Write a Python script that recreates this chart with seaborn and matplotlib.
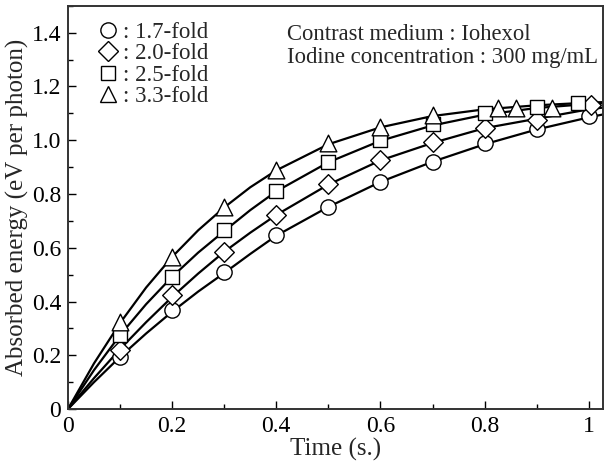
import numpy as np
import pandas as pd
import matplotlib
matplotlib.use('Agg')
import matplotlib.pyplot as plt
from matplotlib.lines import Line2D
from matplotlib.ticker import MultipleLocator, FuncFormatter
import seaborn as sns

folds = ['1.7-fold', '2.0-fold', '2.5-fold', '3.3-fold']
markers = ['o', 'D', 's', '^']
msizes = [11, 10, 10.5, 12]

t_circ = [0.1, 0.2, 0.3, 0.4, 0.5, 0.6, 0.7, 0.8, 0.9, 1.0]
e_circ = [0.194, 0.368, 0.51, 0.648, 0.752, 0.845, 0.92, 0.99, 1.04, 1.09]
t_diam = [0.1, 0.2, 0.3, 0.4, 0.5, 0.6, 0.7, 0.8, 0.9, 1.005]
e_diam = [0.22, 0.425, 0.585, 0.722, 0.838, 0.927, 0.995, 1.045, 1.076, 1.13]
t_sq = [0.1, 0.2, 0.3, 0.4, 0.5, 0.6, 0.7, 0.8, 0.9, 0.98]
e_sq = [0.275, 0.49, 0.667, 0.81, 0.92, 1.0, 1.06, 1.10, 1.125, 1.14]
t_tri = [0.1, 0.2, 0.3, 0.4, 0.5, 0.6, 0.7, 0.825, 0.86, 0.93]
e_tri = [0.325, 0.566, 0.75, 0.89, 0.99, 1.05, 1.095, 1.12, 1.12, 1.12]

# fitted curves, sampled off the figure
t_curve = [0, 0.05, 0.1, 0.15, 0.2, 0.25, 0.3, 0.35, 0.4, 0.5, 0.6, 0.7, 0.8, 0.9, 1.0, 1.03]
c_17 = [0, 0.100, 0.194, 0.281, 0.362, 0.437, 0.506, 0.577, 0.645, 0.752, 0.845, 0.92, 0.985, 1.04, 1.085, 1.097]
c_20 = [0, 0.115, 0.223, 0.323, 0.417, 0.504, 0.585, 0.656, 0.722, 0.835, 0.925, 0.99, 1.045, 1.08, 1.115, 1.122]
c_25 = [0, 0.145, 0.275, 0.390, 0.492, 0.582, 0.662, 0.740, 0.810, 0.918, 0.998, 1.055, 1.095, 1.12, 1.135, 1.138]
c_33 = [0, 0.170, 0.320, 0.452, 0.566, 0.665, 0.750, 0.825, 0.888, 0.985, 1.048, 1.09, 1.115, 1.13, 1.14, 1.142]

pts = [(t_circ, e_circ), (t_diam, e_diam), (t_sq, e_sq), (t_tri, e_tri)]
curves = [c_17, c_20, c_25, c_33]

sns.set_style('ticks')
plt.rcParams['font.family'] = ['Liberation Serif', 'DejaVu Serif']

fig = plt.figure(figsize=(6.04, 4.65), dpi=100)
ax = fig.add_axes([0.1126, 0.1204, 0.8854, 0.867])

for c in curves:
    df = pd.DataFrame({'t': t_curve, 'e': c})
    sns.lineplot(data=df, x='t', y='e', color='black', lw=1.6, ax=ax, zorder=2)

for (t, e), m, ms in zip(pts, markers, msizes):
    df = pd.DataFrame({'t': t, 'e': e})
    sns.scatterplot(data=df, x='t', y='e', marker=m, s=ms ** 2, facecolor='white',
                    edgecolor='black', linewidth=1.0, ax=ax, zorder=3)

ax.set_xlim(0, 1.027)
ax.set_ylim(0, 1.5)
ax.xaxis.set_major_locator(MultipleLocator(0.2))
ax.xaxis.set_minor_locator(MultipleLocator(0.1))
ax.yaxis.set_major_locator(MultipleLocator(0.2))
ax.yaxis.set_minor_locator(MultipleLocator(0.1))
ax.xaxis.set_major_formatter(FuncFormatter(lambda v, p: '0' if abs(v) < 1e-9 else ('1' if abs(v - 1) < 1e-9 else f'{v:.1f}')))
ax.yaxis.set_major_formatter(FuncFormatter(lambda v, p: '0' if abs(v) < 1e-9 else f'{v:.1f}'))
ax.tick_params(which='both', direction='in', top=False, right=False, labelsize=17, width=1.0, colors='black')
ax.tick_params(which='major', length=6, pad=5)
ax.tick_params(which='minor', length=3.5)
for s in ax.spines.values():
    s.set_linewidth(1.4)
    s.set_color('#333333')

ax.set_xlabel('Time (s.)', fontsize=18, labelpad=1)
ax.set_ylabel('Absorbed energy (eV per photon)', fontsize=18, labelpad=2)

handles = [Line2D([], [], ls='none', marker=m, ms=ms, mfc='white', mec='black', mew=1.0)
           for m, ms in zip(markers, msizes)]
ax.legend(handles, [': ' + f for f in folds], loc='upper left', bbox_to_anchor=(0.02, 1.0),
          frameon=False, fontsize=16.5, handletextpad=0.05, handlelength=1.2,
          labelspacing=0.02, borderaxespad=0.3)

ax.text(0.409, 0.955, 'Contrast medium : Iohexol\nIodine concentration : 300 mg/mL',
        transform=ax.transAxes, fontsize=16.3, va='top', ha='left', linespacing=1.12)

fig.savefig('out.png', dpi=100)
